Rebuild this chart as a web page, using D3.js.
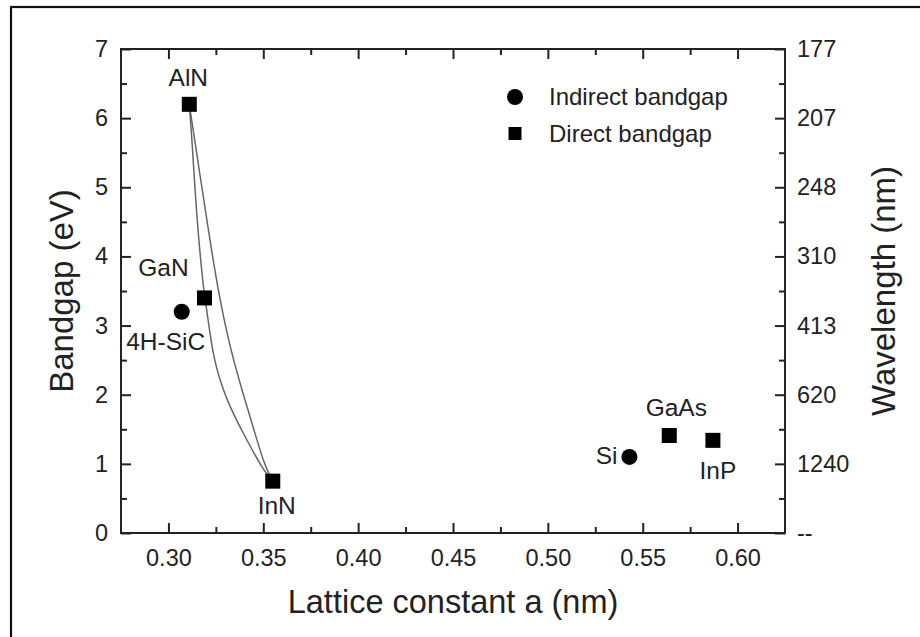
<!DOCTYPE html>
<html>
<head>
<meta charset="utf-8">
<script src="https://cdn.jsdelivr.net/npm/d3@7"></script>
<style>
  body { margin: 0; background: #fff; }
  text { font-family: "Liberation Sans", Arial, sans-serif; fill: #222; }
</style>
</head>
<body>
<svg width="920" height="637"></svg>
<script>
// materials: lattice constant (nm), bandgap (eV)
var names   = ['AlN', 'GaN', 'InN', 'GaAs', 'InP', '4H-SiC', 'Si'];
var lattice = [0.311, 0.319, 0.355, 0.564, 0.587, 0.307, 0.543];
var bandgap = [6.2, 3.4, 0.75, 1.41, 1.34, 3.2, 1.10];
var kind    = ['direct', 'direct', 'direct', 'direct', 'direct', 'indirect', 'indirect'];

// alloy curves (AlN -> GaN -> InN, and AlN -> InN)
var curveA_a = [0.311, 0.3122, 0.3139, 0.3159, 0.319, 0.3201, 0.3236, 0.3306, 0.3394, 0.3499, 0.355];
var curveA_e = [6.2, 5.78, 5.01, 4.24, 3.4, 3.27, 2.50, 1.92, 1.44, 0.91, 0.75];
var curveB_a = [0.311, 0.3218, 0.3262, 0.3315, 0.3376, 0.3446, 0.3508, 0.355];
var curveB_e = [6.2, 4.24, 3.51, 2.79, 2.17, 1.54, 0.96, 0.75];

var xTicks = [0.30, 0.35, 0.40, 0.45, 0.50, 0.55, 0.60];
var xMinor = [0.325, 0.375, 0.425, 0.475, 0.525, 0.575];
var yTicks = [0, 1, 2, 3, 4, 5, 6, 7];
var yMinor = [0.5, 1.5, 2.5, 3.5, 4.5, 5.5, 6.5];
var wavelengthLabels = ['--', '1240', '620', '413', '310', '248', '207', '177'];

var svg = d3.select('svg');

// outer frame of the figure
svg.append('rect')
    .attr('x', 11).attr('y', 7)
    .attr('width', 940).attr('height', 660)
    .attr('fill', 'none').attr('stroke', '#111').attr('stroke-width', 2.2);

var scaleX = d3.scaleLinear().domain([0.275, 0.625]).range([121, 785]);
var scaleY = d3.scaleLinear().domain([0, 7]).range([533, 49]);

function styleAxis(g) {
    g.select('.domain').remove();
    g.selectAll('line').attr('stroke', '#222').attr('stroke-width', 2);
    g.selectAll('text').attr('font-size', 23.5).attr('fill', '#222')
        .attr('font-family', '"Liberation Sans", Arial, sans-serif');
}

// bottom
svg.append('g').attr('transform', 'translate(0,533)')
    .call(d3.axisBottom(scaleX).tickValues(xTicks).tickFormat(d3.format('.2f')).tickSize(-10).tickPadding(16))
    .call(styleAxis);
svg.append('g').attr('transform', 'translate(0,533)')
    .call(d3.axisBottom(scaleX).tickValues(xMinor).tickFormat('').tickSize(-6))
    .call(styleAxis);
// top
svg.append('g').attr('transform', 'translate(0,49)')
    .call(d3.axisTop(scaleX).tickValues(xTicks).tickFormat('').tickSize(-10))
    .call(styleAxis);
svg.append('g').attr('transform', 'translate(0,49)')
    .call(d3.axisTop(scaleX).tickValues(xMinor).tickFormat('').tickSize(-6))
    .call(styleAxis);
// left
svg.append('g').attr('transform', 'translate(121,0)')
    .call(d3.axisLeft(scaleY).tickValues(yTicks).tickFormat(d3.format('d')).tickSize(-10).tickPadding(13))
    .call(styleAxis);
svg.append('g').attr('transform', 'translate(121,0)')
    .call(d3.axisLeft(scaleY).tickValues(yMinor).tickFormat('').tickSize(-6))
    .call(styleAxis);
// right (wavelength)
svg.append('g').attr('transform', 'translate(785,0)')
    .call(d3.axisRight(scaleY).tickValues(yTicks).tickFormat(function (d) { return wavelengthLabels[d]; }).tickSize(-10).tickPadding(12))
    .call(styleAxis);
svg.append('g').attr('transform', 'translate(785,0)')
    .call(d3.axisRight(scaleY).tickValues(yMinor).tickFormat('').tickSize(-6))
    .call(styleAxis);

// plot frame
svg.append('rect')
    .attr('x', 121).attr('y', 49)
    .attr('width', 785 - 121).attr('height', 533 - 49)
    .attr('fill', 'none').attr('stroke', '#222').attr('stroke-width', 2);

// alloy curves
var line = d3.line()
    .x(function (d) { return scaleX(d[0]); })
    .y(function (d) { return scaleY(d[1]); })
    .curve(d3.curveBasis);

[[curveA_a, curveA_e], [curveB_a, curveB_e]].forEach(function (c) {
    svg.append('path')
        .datum(d3.zip(c[0], c[1]))
        .attr('d', line)
        .attr('fill', 'none')
        .attr('stroke', '#666')
        .attr('stroke-width', 1.5);
});

// points
var pts = d3.range(names.length).map(function (i) {
    return { name: names[i], a: lattice[i], e: bandgap[i], kind: kind[i] };
});

svg.selectAll('rect.pt')
    .data(pts.filter(function (d) { return d.kind === 'direct'; }))
    .enter().append('rect')
    .attr('class', 'pt')
    .attr('x', function (d) { return scaleX(d.a) - 7.5; })
    .attr('y', function (d) { return scaleY(d.e) - 7.5; })
    .attr('width', 15).attr('height', 15)
    .attr('fill', '#000');

svg.selectAll('circle.pt')
    .data(pts.filter(function (d) { return d.kind === 'indirect'; }))
    .enter().append('circle')
    .attr('class', 'pt')
    .attr('cx', function (d) { return scaleX(d.a); })
    .attr('cy', function (d) { return scaleY(d.e); })
    .attr('r', 8)
    .attr('fill', '#000');

// point labels: offsets relative to the marker
var labelDx = { 'AlN': -1, 'GaN': -41, 'InN': 4, 'GaAs': 7, 'InP': 5, '4H-SiC': -16, 'Si': -12 };
var labelDy = { 'AlN': -18, 'GaN': -22, 'InN': 33, 'GaAs': -20, 'InP': 39, '4H-SiC': 38, 'Si': 7 };
var labelAnchor = { 'Si': 'end' };

svg.selectAll('text.lab')
    .data(pts)
    .enter().append('text')
    .attr('class', 'lab')
    .attr('x', function (d) { return scaleX(d.a) + labelDx[d.name]; })
    .attr('y', function (d) { return scaleY(d.e) + labelDy[d.name]; })
    .attr('text-anchor', function (d) { return labelAnchor[d.name] || 'middle'; })
    .attr('font-size', 24.5)
    .text(function (d) { return d.name; });

// legend
var legend = svg.append('g').attr('transform', 'translate(515,0)');
legend.append('circle').attr('cx', 0).attr('cy', 97).attr('r', 8).attr('fill', '#000');
legend.append('rect').attr('x', -6.5).attr('y', 127).attr('width', 13).attr('height', 13).attr('fill', '#000');
legend.append('text').attr('x', 34).attr('y', 105).attr('font-size', 24).text('Indirect bandgap');
legend.append('text').attr('x', 34).attr('y', 142).attr('font-size', 24).text('Direct bandgap');

// axis titles
svg.append('text')
    .attr('x', 453).attr('y', 613)
    .attr('text-anchor', 'middle')
    .attr('font-size', 32.5)
    .text('Lattice constant a (nm)');

svg.append('text')
    .attr('transform', 'translate(73,291) rotate(-90)')
    .attr('text-anchor', 'middle')
    .attr('font-size', 33)
    .text('Bandgap (eV)');

svg.append('text')
    .attr('transform', 'translate(895,291) rotate(-90)')
    .attr('text-anchor', 'middle')
    .attr('font-size', 33)
    .text('Wavelength (nm)');
</script>
</body>
</html>
